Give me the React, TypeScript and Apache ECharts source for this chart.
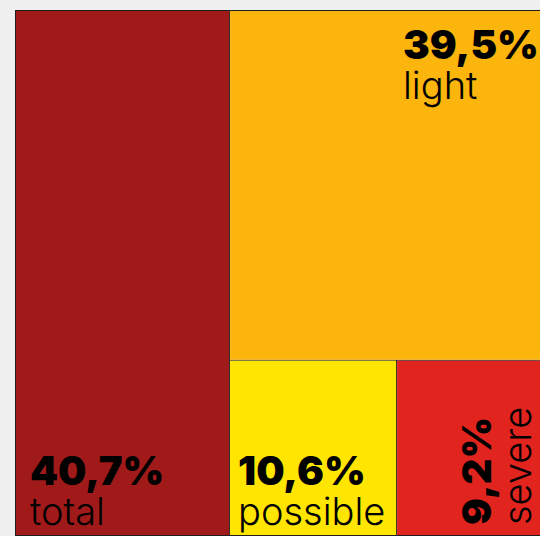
import React, { useEffect, useRef } from "react";
import * as echarts from "echarts";

const categories = ["total", "light", "possible", "severe"];
const shares = [40.7, 39.5, 10.6, 9.2];
const colors = ["#a11a1a", "#fbb50c", "#ffe500", "#e2241f"];

const BOLD = "Inter";
const LIGHT = "Inter";

function fmt(v: number) {
  return v.toFixed(1).replace(".", ",") + "%";
}

// label placement relative to each cell (style only)
const labelPlacement: { corner: string; dx: number; dy: number; rotate?: number }[] = [
  { corner: "bl", dx: 9, dy: -89.5 },
  { corner: "tr", dx: -143, dy: 8.5 },
  { corner: "bl", dx: 3, dy: -89.5 },
  { corner: "br", dx: -89.5, dy: -5, rotate: 90 },
];

export default function App() {
  const ref = useRef<HTMLDivElement>(null);
  useEffect(() => {
    document.body.style.margin = "0";
    document.body.style.background = "#f0f0f0";
    const chart = echarts.init(ref.current!, undefined, { renderer: "svg" });
    chart.setOption({
      animation: false,
      backgroundColor: "#f0f0f0",
      series: [
        {
          type: "treemap",
          left: 15,
          top: 10,
          width: 527,
          height: 526,
          squareRatio: 0.5,
          roam: false,
          nodeClick: false,
          breadcrumb: { show: false },
          levels: [
            { itemStyle: { borderWidth: 1, gapWidth: 1, borderColor: "#1e1e1e" } },
            { itemStyle: { borderWidth: 0, gapWidth: 0 } },
          ],
          label: {
            show: true,
            overflow: "none",
            position: "insideTopLeft",
            formatter: (p: any) => `{b|${fmt(p.value)}}\n{l|${p.name}}`,
            rich: {
              b: { fontFamily: BOLD, fontWeight: 900, fontSize: 40, color: "#000", lineHeight: 40, align: "left" },
              l: { fontFamily: LIGHT, fontWeight: 300, fontSize: 38, color: "#000", lineHeight: 40, align: "left" },
            },
          },
          labelLayout: (p: any) => {
            const text: string = String(p.text || "");
            const i = categories.findIndex((c) => text.indexOf("|" + c + "}") >= 0);
            if (i < 0) return {};
            const r = p.rect;
            const pl = labelPlacement[i];
            const bx = pl.corner.indexOf("r") >= 0 ? r.x + r.width : r.x;
            const by = pl.corner.indexOf("b") >= 0 ? r.y + r.height : r.y;
            const out: any = { x: bx + pl.dx, y: by + pl.dy, align: "left", verticalAlign: "top" };
            if (pl.rotate) out.rotate = pl.rotate;
            return out;
          },
          data: categories.map((c, i) => ({
            name: c,
            value: shares[i],
            itemStyle: { color: colors[i] },
          })),
        },
      ],
    });
    return () => chart.dispose();
  }, []);
  return <div ref={ref} style={{ width: 540, height: 536 }} />;
}
